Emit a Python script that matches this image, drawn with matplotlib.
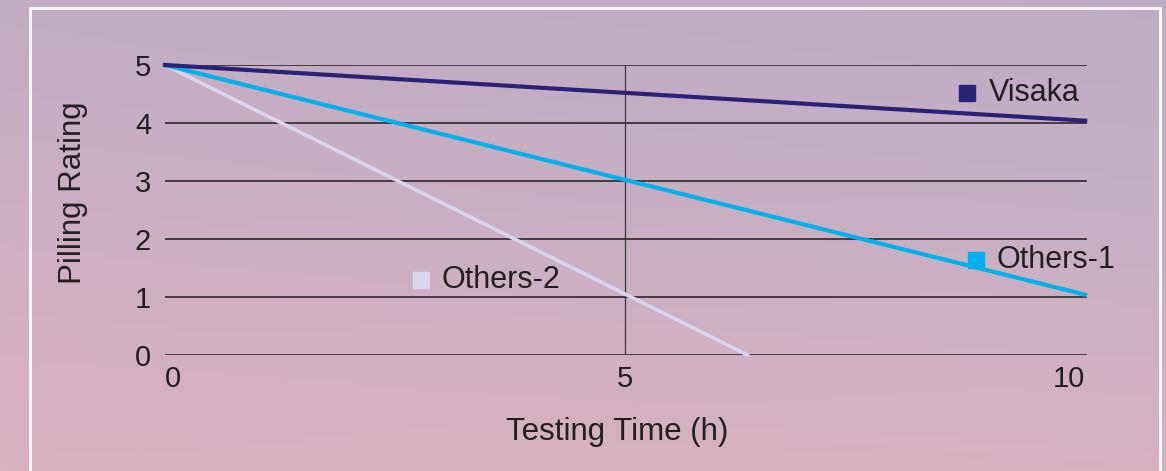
import numpy as np
import matplotlib
matplotlib.use('Agg')
import matplotlib.pyplot as plt
from matplotlib.patches import Rectangle

plt.rcParams['font.family'] = ['Liberation Sans', 'DejaVu Sans']

# data
series = ['Visaka', 'Others-1', 'Others-2']
visaka_t = [0, 10]
visaka_r = [5, 4.04]
others1_t = [0, 10]
others1_r = [5, 1.04]
others2_t = [0, 6.33]
others2_r = [5, 0]
x_ticks = [0, 5, 10]
y_ticks = [0, 1, 2, 3, 4, 5]

colors = {'Visaka': '#2a2279', 'Others-1': '#00b1ec', 'Others-2': '#d9d5ef'}
txt = '#231f20'
grid_c = '#3a3438'

fig = plt.figure(figsize=(11.66, 4.71), dpi=100)

# background gradient
bg = fig.add_axes([0, 0, 1, 1])
tl = np.array([196, 173, 196]) / 255
tr = np.array([188, 173, 198]) / 255
bl = np.array([217, 177, 192]) / 255
br = np.array([214, 178, 193]) / 255
u = np.linspace(0, 1, 200)[None, :, None]
v = np.linspace(0, 1, 100)[:, None, None]
img = (1 - v) * ((1 - u) * tl + u * tr) + v * ((1 - u) * bl + u * br)
bg.imshow(img, aspect='auto', extent=[0, 1, 0, 1], origin='upper')
bg.set_xlim(0, 1)
bg.set_ylim(0, 1)
bg.axis('off')
bg.add_patch(Rectangle((30 / 1166, -0.1), 1130 / 1166, 1.1 - 8 / 471,
                       fill=False, ec='white', lw=2.0))

ax = fig.add_axes([165 / 1166, 1 - 355 / 471, 922 / 1166, 290 / 471])
ax.set_facecolor('none')
ax.set_xlim(0, 10.02)
ax.set_ylim(0, 5)

for y in y_ticks:
    ax.axhline(y, color=grid_c, lw=1.3, zorder=1)
ax.axvline(5, color=grid_c, lw=0.9, zorder=1)

ax.plot(others2_t, others2_r, color=colors['Others-2'], lw=2.6, zorder=3, clip_on=False)
ax.plot(others1_t, others1_r, color=colors['Others-1'], lw=3.0, zorder=4, clip_on=False)
ax.plot(visaka_t, visaka_r, color=colors['Visaka'], lw=3.0, zorder=5, clip_on=False)

for s in ax.spines.values():
    s.set_visible(False)
ax.tick_params(length=0, labelsize=21, colors=txt)
ax.set_xticks(x_ticks)
ax.set_yticks(y_ticks)
ax.tick_params(axis='x', pad=7)
ax.tick_params(axis='y', pad=10)
xl = ax.get_xticklabels()
xl[0].set_ha('left')
xl[-1].set_ha('right')

ax.set_xlabel('Testing Time (h)', fontsize=22.5, color=txt)
ax.set_ylabel('Pilling Rating', fontsize=22.5, color=txt)
ax.xaxis.set_label_coords(0.490, -0.215)
ax.yaxis.set_label_coords(-0.083, 0.559)

# inline labels
labels = [('Visaka', 8.72, 4.52), ('Others-1', 8.81, 1.64), ('Others-2', 2.78, 1.29)]
for name, lx, ly in labels:
    ax.plot([lx], [ly], marker='s', ms=11.5, color=colors[name], ls='none', zorder=6)
    ax.text(lx + 0.23, ly, name, fontsize=22, color=txt, va='center', ha='left')

fig.savefig('out.png', dpi=100)
